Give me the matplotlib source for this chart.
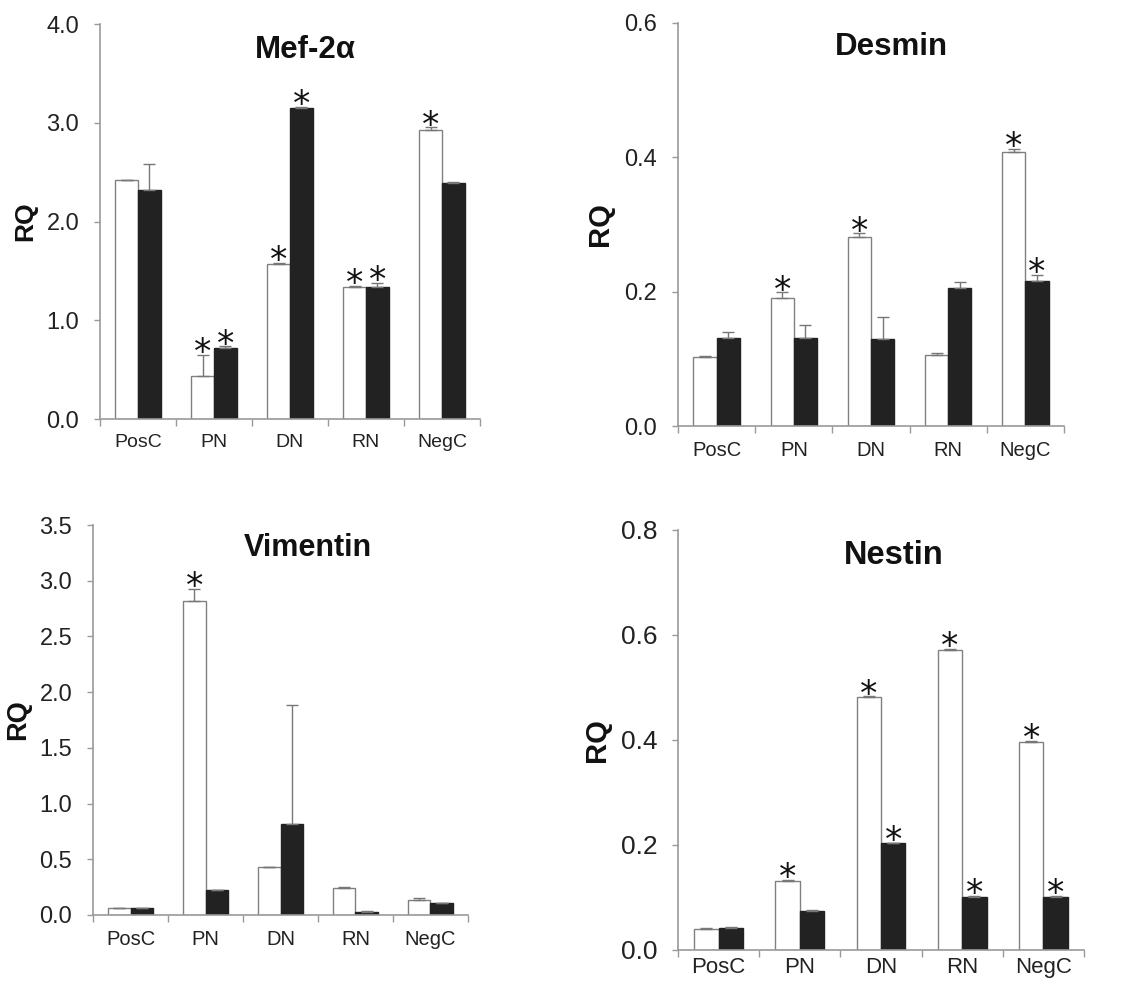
import numpy as np
import matplotlib
matplotlib.use("Agg")
import matplotlib.pyplot as plt

plt.rcParams["font.family"] = ["Liberation Sans", "DejaVu Sans"]

categories = ["PosC", "PN", "DN", "RN", "NegC"]

# Mef-2a
mef_white = [2.42, 0.44, 1.57, 1.335, 2.93]
mef_white_err = [0.0, 0.21, 0.012, 0.012, 0.025]
mef_black = [2.32, 0.72, 3.15, 1.335, 2.385]
mef_black_err = [0.26, 0.015, 0.01, 0.045, 0.015]
mef_white_star = [0, 1, 1, 1, 1]
mef_black_star = [0, 1, 1, 1, 0]

# Desmin
des_white = [0.103, 0.191, 0.282, 0.105, 0.408]
des_white_err = [0.001, 0.008, 0.005, 0.004, 0.005]
des_black = [0.131, 0.131, 0.129, 0.206, 0.216]
des_black_err = [0.009, 0.019, 0.033, 0.008, 0.009]
des_white_star = [0, 1, 1, 0, 1]
des_black_star = [0, 0, 0, 0, 1]

# Vimentin
vim_white = [0.06, 2.815, 0.43, 0.24, 0.135]
vim_white_err = [0.0, 0.115, 0.0, 0.008, 0.015]
vim_black = [0.06, 0.22, 0.817, 0.027, 0.11]
vim_black_err = [0.0, 0.0, 1.07, 0.008, 0.0]
vim_white_star = [0, 1, 0, 0, 0]
vim_black_star = [0, 0, 0, 0, 0]

# Nestin
nes_white = [0.0406, 0.132, 0.482, 0.572, 0.397]
nes_white_err = [0.001, 0.001, 0.001, 0.001, 0.001]
nes_black = [0.0425, 0.074, 0.203, 0.1016, 0.1016]
nes_black_err = [0.001, 0.003, 0.001, 0.001, 0.001]
nes_white_star = [0, 1, 1, 1, 1]
nes_black_star = [0, 0, 1, 1, 1]

GRAY = "#9a9a9a"
DARK = "#222222"


def panel(fig, rect, title, tpos, white, werr, black, berr, wstar, bstar,
          ymax, ystep, tick_fs, cat_fs, cat_pad, title_fs, rq_fs):
    ax = fig.add_axes(rect)
    x = np.arange(len(categories))
    w = 0.3
    ekw = dict(ecolor="#777777", elinewidth=1.0, capsize=4, capthick=1.0)
    ax.bar(x - w / 2, white, w, color="white", edgecolor="#808080", lw=1.0,
           yerr=[np.zeros(len(werr)), werr], error_kw=ekw, zorder=2)
    ax.bar(x + w / 2, black, w, color=DARK, edgecolor=DARK, lw=1.0,
           yerr=[np.zeros(len(berr)), berr], error_kw=ekw, zorder=2)
    for vals, errs, stars, dx in [(white, werr, wstar, -w / 2), (black, berr, bstar, w / 2)]:
        for i, (v, e, s) in enumerate(zip(vals, errs, stars)):
            if s:
                ax.annotate("*", xy=(i + dx, v + e), xytext=(0, -6),
                            textcoords="offset points", ha="center",
                            va="baseline", fontsize=25, color="#111111",
                            family="DejaVu Sans")
    ax.set_xlim(-0.5, 4.5)
    ax.set_ylim(0, ymax)
    ticks = np.arange(0, ymax + ystep / 2, ystep)
    ax.set_yticks(ticks)
    ax.set_yticklabels([f"{t:.1f}" for t in ticks], fontsize=tick_fs, color="#222222")
    ax.set_xticks(np.arange(-0.5, 5, 1))
    ax.set_xticklabels([])
    ax.set_xticks(x, minor=True)
    ax.set_xticklabels(categories, minor=True, fontsize=cat_fs, color="#222222")
    ax.tick_params(axis="x", which="major", length=5, color=GRAY, width=1)
    ax.tick_params(axis="x", which="minor", length=0, pad=cat_pad)
    ax.tick_params(axis="y", length=4, color=GRAY, width=1, pad=11)
    for s in ["top", "right"]:
        ax.spines[s].set_visible(False)
    for s in ["left", "bottom"]:
        ax.spines[s].set_color(GRAY)
        ax.spines[s].set_linewidth(1.2)
    ax.text(tpos[0], tpos[1], title, transform=ax.transAxes, ha="center",
            va="center", fontsize=title_fs, fontweight="bold", color="#111111")
    ax.set_ylabel("RQ", fontsize=rq_fs, fontweight="bold", color="#111111")
    ax.yaxis.set_label_coords(-0.166, 0.5)
    return ax


fig = plt.figure(figsize=(11.22, 9.88), dpi=100)

panel(fig, [0.0891, 0.5759, 0.3387, 0.3998], "Mef-2\u03b1", (0.54, 0.934),
      mef_white, mef_white_err, mef_black, mef_black_err, mef_white_star, mef_black_star,
      4.0, 1.0, 17, 14, 11, 22.5, 19)
panel(fig, [0.6043, 0.5688, 0.344, 0.408], "Desmin", (0.552, 0.94),
      des_white, des_white_err, des_black, des_black_err, des_white_star, des_black_star,
      0.6, 0.2, 17, 14.5, 11, 22.5, 21)
panel(fig, [0.0829, 0.0739, 0.3342, 0.3947], "Vimentin", (0.573, 0.941),
      vim_white, vim_white_err, vim_black, vim_black_err, vim_white_star, vim_black_star,
      3.5, 0.5, 17, 14.5, 11, 22, 19.5)
panel(fig, [0.6043, 0.0385, 0.3619, 0.4251], "Nestin", (0.532, 0.94),
      nes_white, nes_white_err, nes_black, nes_black_err, nes_white_star, nes_black_star,
      0.8, 0.2, 19, 16, 5, 23.5, 21)

fig.savefig("out.png", dpi=100)
